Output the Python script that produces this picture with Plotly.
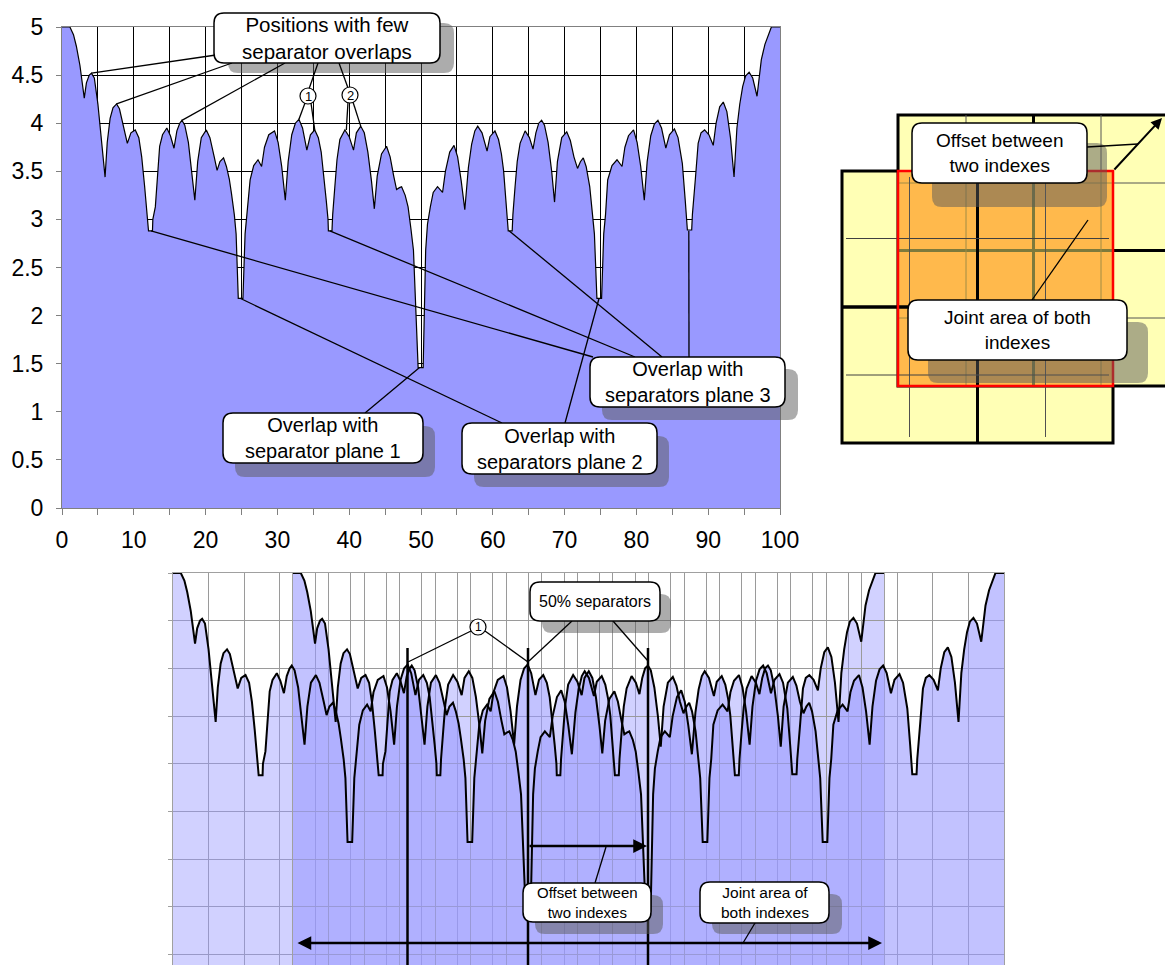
import plotly.graph_objects as go

W, H = 1165, 965
FONT = "Arial, 'Liberation Sans', Helvetica, sans-serif"

# ---------------- data ----------------
# position along the index (0..100) and number of separator overlaps
positions = [
    0, 1.1, 1.6, 2.0, 2.5, 2.8, 3.1, 3.4, 3.8, 4.1, 4.5, 5.0, 5.4, 5.8, 6.0, 6.3, 6.7, 7.1, 7.6, 8.0,
    8.5, 9.1, 9.6, 10.2, 10.7, 11.1, 11.5, 11.8, 12.0, 12.05, 12.6, 12.65,
    13.0, 13.3, 13.6, 14.0, 14.6, 15.1, 15.6, 16.0, 16.4, 16.7, 17.1, 17.6, 18.1, 18.5, 18.9, 19.4,
    20.1, 20.6, 21.2, 21.6, 22.0, 22.5, 22.9, 23.3, 23.6, 24.0, 24.25, 24.55, 25.2, 25.5, 25.75,
    26.2, 26.7, 27.3, 27.8, 28.2, 28.8, 29.6, 30.1, 30.6, 31.1, 31.5, 32.0, 32.5, 33.0, 33.5, 34.1,
    34.6, 35.2, 35.7, 36.1, 36.4, 36.8, 37.05, 37.1, 37.6, 37.7, 38.0, 38.3, 38.7, 39.4, 40.0, 40.6,
    41.0, 41.6, 42.1, 42.6, 43.1, 43.5, 43.9, 44.5, 45.2, 45.7, 46.2, 46.6, 47.0, 47.3, 47.8, 48.2,
    48.6, 48.95, 49.6, 50.3, 50.65, 50.9,
    51.3, 51.7, 52.3, 53.0, 53.4, 54.0, 54.6, 55.1, 55.6, 56.1, 56.6, 57.05, 57.5, 57.9, 58.5, 59.2,
    59.6, 60.3, 60.8, 61.2, 61.5, 61.9, 62.1, 62.15, 62.7, 62.8, 63.1, 63.4, 63.8, 64.5, 65.1, 65.6,
    66.0, 66.4, 66.8, 67.2, 67.7, 68.2, 68.6, 69.0, 69.6, 70.3, 70.8, 71.3, 71.8, 72.2, 72.6, 73.0,
    73.5, 73.9, 74.15, 74.5, 75.15, 75.45,
    75.7, 76.0, 76.6, 77.3, 78.0, 78.4, 78.9, 79.6, 80.1, 80.6, 81.1, 81.5, 82.0, 82.5, 83.0, 83.5,
    84.1, 84.6, 85.3, 85.8, 86.1, 86.4, 86.8, 87.05, 87.1, 87.7, 87.8, 88.2, 88.6, 89.0, 89.5, 90.1,
    90.7, 91.1, 91.6, 92.1, 92.6, 93.1, 93.6, 94.0, 94.4, 94.8, 95.2, 95.7, 96.2, 96.8, 97.1, 97.4,
    97.9, 98.4, 98.8, 100,
]
overlaps = [
    5, 5, 4.92, 4.8, 4.6, 4.45, 4.26, 4.42, 4.5, 4.52, 4.47, 4.2, 3.9, 3.6, 3.44, 3.8, 4.05, 4.16, 4.2, 4.15,
    4.0, 3.79, 3.9, 3.93, 3.85, 3.65, 3.35, 3.05, 2.95, 2.88, 2.88, 3.0,
    3.13, 3.5, 3.76, 3.88, 3.95, 3.87, 3.74, 3.92, 4.0, 4.03, 3.98, 3.8, 3.5, 3.2, 3.6, 3.85,
    3.93, 3.85, 3.65, 3.51, 3.6, 3.64, 3.55, 3.42, 3.27, 3.05, 2.85, 2.18, 2.18, 2.85, 3.05,
    3.41, 3.56, 3.62, 3.55, 3.75, 3.88, 3.92, 3.8, 3.55, 3.2, 3.6, 3.88, 4.0, 4.04, 3.95, 3.72,
    3.88, 3.93, 3.85, 3.7, 3.51, 3.2, 3.0, 2.88, 2.88, 3.05, 3.34, 3.62, 3.83, 3.93, 3.86, 3.72,
    3.9, 3.97, 3.9, 3.7, 3.4, 3.11, 3.45, 3.68, 3.76, 3.65, 3.45, 3.31, 3.33, 3.34, 3.25, 3.13,
    2.9, 2.68, 1.46, 1.46, 2.68, 2.95,
    3.13, 3.28, 3.34, 3.28, 3.5, 3.7, 3.77, 3.65, 3.4, 3.1, 3.54, 3.78, 3.92, 3.97, 3.9, 3.71,
    3.86, 3.92, 3.83, 3.68, 3.51, 3.15, 3.0, 2.88, 2.88, 3.05, 3.34, 3.6, 3.79, 3.92, 3.85, 3.73,
    3.9, 4.0, 4.03, 3.98, 3.8, 3.5, 3.18, 3.6, 3.85, 3.91, 3.82, 3.65, 3.53, 3.6, 3.64, 3.55,
    3.34, 3.05, 2.85, 2.18, 2.18, 2.85,
    3.05, 3.41, 3.56, 3.62, 3.55, 3.75, 3.87, 3.93, 3.8, 3.55, 3.2, 3.6, 3.87, 3.99, 4.03, 3.95,
    3.74, 3.88, 3.94, 3.85, 3.72, 3.58, 3.2, 3.0, 2.89, 2.89, 3.05, 3.41, 3.79, 3.9, 3.93, 3.88,
    3.77, 4.0, 4.17, 4.22, 4.12, 3.85, 3.44, 3.95, 4.2, 4.38, 4.49, 4.53, 4.47, 4.28, 4.5, 4.66,
    4.82, 4.93, 5.0, 5.0,
]

x_tick_vals = list(range(0, 101, 5))
x_tick_text = [str(v) if v % 10 == 0 else "" for v in x_tick_vals]
y_tick_vals = [0, 0.5, 1, 1.5, 2, 2.5, 3, 3.5, 4, 4.5, 5]
y_tick_text = ["0", "0.5", "1", "1.5", "2", "2.5", "3", "3.5", "4", "4.5", "5"]

txt_few = "Positions with few<br>separator overlaps"
txt_p1 = "Overlap with<br>separator plane 1"
txt_p2 = "Overlap with<br>separators plane 2"
txt_p3 = "Overlap with<br>separators plane 3"
txt_offset = "Offset between<br>two indexes"
txt_joint_r = "Joint area of both<br>indexes"
txt_sep50 = "50% separators"
txt_joint_b = "Joint area of<br>both indexes"

# ---------------- geometry (pixels) ----------------
TX0, TX1, TY0, TY1 = 62, 780, 27, 508          # top chart plot area
B1X0, B1X1 = 173, 884                           # bottom chart, index 1
B2X0, B2X1 = 293, 1004                          # bottom chart, index 2
BYT, BYUNIT = 573, 95.4                          # bottom: pixel of value 5, px per unit
B_YMIN = 5 - (H - BYT) / BYUNIT


def tp(x, y):
    return (TX0 + (TX1 - TX0) * x / 100.0, TY1 - (TY1 - TY0) * y / 5.0)


def dom_x(a, b):
    return [a / W, b / W]


def dom_y(top, bot):
    return [1 - bot / H, 1 - top / H]


fig = go.Figure()

# top chart
fig.add_trace(go.Scatter(x=positions, y=overlaps, mode="lines", fill="tozeroy",
                         fillcolor="#9999ff", line=dict(color="black", width=1.2),
                         xaxis="x", yaxis="y", hoverinfo="skip", showlegend=False))
# bottom chart : index 1 (fill) and index 2 (fill + outline), index 1 outline on top
fig.add_trace(go.Scatter(x=positions, y=overlaps, mode="lines", fill="tozeroy",
                         fillcolor="rgba(153,153,255,0.45)", line=dict(color="black", width=0),
                         xaxis="x2", yaxis="y2", hoverinfo="skip", showlegend=False))
fig.add_trace(go.Scatter(x=positions, y=overlaps, mode="lines", fill="tozeroy",
                         fillcolor="rgba(153,153,255,0.6)", line=dict(color="black", width=2),
                         xaxis="x3", yaxis="y3", hoverinfo="skip", showlegend=False))
fig.add_trace(go.Scatter(x=positions, y=overlaps, mode="lines",
                         line=dict(color="black", width=2),
                         xaxis="x5", yaxis="y5", hoverinfo="skip", showlegend=False))

tickfont = dict(family=FONT, size=23, color="black")
common = dict(automargin=False, fixedrange=True, zeroline=False)
layout = dict(
    width=W, height=H, margin=dict(l=0, r=0, t=0, b=0, pad=0), autosize=False,
    paper_bgcolor="white", plot_bgcolor="rgba(0,0,0,0)", showlegend=False,
    xaxis=dict(domain=dom_x(TX0, TX1), range=[0, 100], tickmode="array",
               tickvals=x_tick_vals, ticktext=x_tick_text, ticks="outside", ticklen=6,
               tickcolor="#808080", showgrid=True, gridcolor="black", gridwidth=1,
               showline=True, linecolor="#808080", mirror=True,
               tickfont=tickfont, anchor="y", ticklabelstandoff=5, **common),
    yaxis=dict(domain=dom_y(TY0, TY1), range=[0, 5], tickmode="array",
               tickvals=y_tick_vals, ticktext=y_tick_text, ticks="outside", ticklen=5,
               tickcolor="#808080", showgrid=True, gridcolor="black", gridwidth=1,
               showline=True, linecolor="#808080", mirror=True,
               tickfont=tickfont, anchor="x", ticklabelstandoff=8, **common),
    xaxis2=dict(domain=dom_x(B1X0, B1X1), range=[0, 100], dtick=5, tick0=0,
                showticklabels=False, ticks="", showgrid=True, gridcolor="#9a9a9a",
                gridwidth=1, showline=True, linecolor="#a0a0a0", side="top",
                anchor="y2", **common),
    yaxis2=dict(domain=dom_y(BYT, H), range=[B_YMIN, 5], dtick=0.5, tick0=0,
                showticklabels=False, ticks="outside", ticklen=4, tickcolor="#a0a0a0",
                showgrid=True, gridcolor="#9a9a9a", gridwidth=1, showline=True,
                linecolor="#a0a0a0", mirror=True, anchor="x2", **common),
    xaxis3=dict(domain=dom_x(B2X0, B2X1), range=[0, 100], dtick=5, tick0=0,
                showticklabels=False, ticks="", showgrid=True, gridcolor="#9a9a9a",
                gridwidth=1, showline=True, linecolor="#a0a0a0", side="top",
                anchor="y3", **common),
    yaxis3=dict(domain=dom_y(BYT, H), range=[B_YMIN, 5], dtick=0.5, tick0=0,
                showticklabels=False, ticks="", showgrid=True, gridcolor="#9a9a9a",
                gridwidth=1, showline=True, linecolor="#a0a0a0", mirror=True,
                anchor="x3", **common),
    # pixel overlay used for the drawing / callouts
    xaxis4=dict(domain=[0, 1], range=[0, W], visible=False, anchor="y4", **common),
    yaxis4=dict(domain=[0, 1], range=[H, 0], visible=False, anchor="x4", **common),
    # outline of index 1 drawn above the fill of index 2
    xaxis5=dict(domain=dom_x(B1X0, B1X1), range=[0, 100], visible=False, anchor="y5", **common),
    yaxis5=dict(domain=dom_y(BYT, H), range=[B_YMIN, 5], visible=False, anchor="x5", **common),
)
fig.update_layout(**layout)

shapes = []
annots = []


def line(x0, y0, x1, y1, color="black", width=1.3):
    shapes.append(dict(type="line", xref="x4", yref="y4", x0=x0, y0=y0, x1=x1, y1=y1,
                       line=dict(color=color, width=width), layer="above"))


def rect(x0, y0, x1, y1, fill=None, color="black", width=0):
    d = dict(type="rect", xref="x4", yref="y4", x0=x0, y0=y0, x1=x1, y1=y1, layer="above",
             line=dict(color=color, width=width))
    if fill:
        d["fillcolor"] = fill
    shapes.append(d)


def rrect_path(x0, y0, x1, y1, r):
    return (f"M{x0 + r},{y0} L{x1 - r},{y0} Q{x1},{y0} {x1},{y0 + r} L{x1},{y1 - r} "
            f"Q{x1},{y1} {x1 - r},{y1} L{x0 + r},{y1} Q{x0},{y1} {x0},{y1 - r} "
            f"L{x0},{y0 + r} Q{x0},{y0} {x0 + r},{y0} Z")


def shadow(x0, y0, x1, y1, r=10):
    shapes.append(dict(type="path", xref="x4", yref="y4", path=rrect_path(x0, y0, x1, y1, r),
                       fillcolor="rgba(90,90,90,0.5)", line=dict(width=0), layer="above"))


def box(x0, y0, x1, y1, text, size, r=10):
    shapes.append(dict(type="path", xref="x4", yref="y4", path=rrect_path(x0, y0, x1, y1, r),
                       fillcolor="white", line=dict(color="black", width=1.5), layer="above"))
    annots.append(dict(xref="x4", yref="y4", x=(x0 + x1) / 2, y=(y0 + y1) / 2, text=text,
                       showarrow=False, font=dict(family=FONT, size=size, color="black"),
                       xanchor="center", yanchor="middle"))


def circle_num(cx, cy, r, num, size):
    shapes.append(dict(type="circle", xref="x4", yref="y4", x0=cx - r, y0=cy - r, x1=cx + r,
                       y1=cy + r, fillcolor="white", line=dict(color="black", width=1.2),
                       layer="above"))
    annots.append(dict(xref="x4", yref="y4", x=cx, y=cy, text=num, showarrow=False,
                       font=dict(family=FONT, size=size, color="black")))


def arrow(x0, y0, x1, y1, width=2.5, both=False):
    annots.append(dict(xref="x4", yref="y4", axref="x4", ayref="y4", x=x1, y=y1, ax=x0, ay=y0,
                       text="", showarrow=True, arrowhead=2, arrowsize=1.1, arrowwidth=width,
                       arrowcolor="black", arrowside="end+start" if both else "end",
                       standoff=0, startstandoff=0))


# ---------------- right panel: two index grids ----------------
YEL = "#ffffb5"
rect(842, 171, 1113, 443, fill=YEL, color="black", width=3)          # index A
rect(898, 115, 1170, 386, fill=YEL, color="black", width=3)          # index B
# index B lines
line(1033.5, 115, 1033.5, 386, width=3)
line(898, 250.5, 1170, 250.5, width=3)
for v in (966, 1101):
    line(v, 115, v, 386, color="#555555", width=1)
for h in (183, 318):
    line(898, h, 1170, h, color="#555555", width=1)
# joint area
rect(898, 171, 1113, 386, fill="#ffb94c", width=0)
line(1033.5, 171, 1033.5, 386, color="#7d7a3c", width=3)
line(898, 250.5, 1113, 250.5, color="#7d7a3c", width=3)
for v in (966, 1101):
    line(v, 171, v, 386, color="#a08c45", width=1)
for h in (183, 318):
    line(898, h, 1113, h, color="#a08c45", width=1)
# index A lines on top
line(977.5, 171, 977.5, 443, width=3)
line(842, 307, 1113, 307, width=3.5)
for v in (909.5, 1045.5):
    line(v, 177, v, 437, color="#505050", width=1)
for h in (238.5, 375):
    line(846, h, 1109, h, color="#404040", width=1)
rect(898, 171, 1113, 386, color="#ff0000", width=2.5)
# callouts right panel
shadow(932, 143, 1107, 207)
shadow(928, 322, 1148, 383)
line(1087, 147, 1138, 144, width=1.3)
line(1032, 300, 1088, 220, width=1.3)
arrow(1113, 171, 1162, 118, width=2)
box(912, 123, 1087, 183, txt_offset, 19)
box(908, 300, 1127, 360, txt_joint_r, 19)

# ---------------- top chart callouts ----------------
shadow(228, 23, 454, 73)
shadow(235, 426, 435, 477)
shadow(474, 436, 669, 487)
shadow(602, 369, 798, 420)
# few overlaps
for (sx, sy), (px, py) in [((216, 55), (4.1, 4.52)), ((232, 63), (7.6, 4.2)),
                           ((285, 63), (16.7, 4.03))]:
    ex, ey = tp(px, py)
    line(sx, sy, ex, ey)
line(318, 63, 309, 89)
line(339, 63, 348, 88)
for (sx, sy), (px, py) in [((305, 103), (33.0, 4.04)), ((311, 103), (35.2, 3.93)),
                           ((348, 102), (39.6, 3.93)), ((353, 102), (41.6, 3.97))]:
    ex, ey = tp(px, py)
    line(sx, sy, ex, ey)
# plane 1
ex, ey = tp(49.8, 1.46)
line(365, 413, ex, ey)
# plane 2
for sx, px in [(502, 24.8), (565, 74.8)]:
    ex, ey = tp(px, 2.18)
    line(sx, 423, ex, ey)
# plane 3
for sx, px in [(593, 12.4), (635, 37.3), (662, 62.3), (689, 87.3)]:
    ex, ey = tp(px, 2.88)
    line(sx, 357, ex, ey)
box(214, 13, 440, 63, txt_few, 20.5)
circle_num(308, 96, 8, "1", 13)
circle_num(350, 95, 8, "2", 13)
box(223, 413, 423, 463, txt_p1, 20)
box(462, 423, 657, 474, txt_p2, 20)
box(590, 357, 785, 407, txt_p3, 20)

# ---------------- bottom chart callouts ----------------
for vx in (407.5, 528, 648):
    line(vx, 648, vx, H, width=2.5)
shadow(542, 594, 671, 633)
shadow(535, 895, 663, 934)
shadow(712, 894, 842, 934)
line(471, 631, 408, 662)
line(485, 631, 528, 662)
line(572, 621, 529, 661)
line(613, 621, 648, 661)
line(595, 883, 606, 847)
line(755, 923, 743, 943)
arrow(528, 846, 647, 846)
arrow(296, 943, 882, 943, both=True)
circle_num(478, 627, 8, "1", 12)
box(530, 582, 660, 621, txt_sep50, 16)
box(523, 883, 651, 922, txt_offset, 15)
box(700, 882, 829, 923, txt_joint_b, 15.5)

fig.update_layout(shapes=shapes, annotations=annots)

post = ("document.documentElement.style.margin='0';document.body.style.margin='0';"
        "document.body.style.padding='0';document.documentElement.style.overflow='hidden';"
        "document.body.style.overflow='hidden';"
        "var d=document.getElementById('{plot_id}');if(d){d.style.position='absolute';"
        "d.style.left='0px';d.style.top='0px';}")
fig.write_html("out.html", include_plotlyjs=True, full_html=True,
               config={"displayModeBar": False, "staticPlot": True}, post_script=post)
